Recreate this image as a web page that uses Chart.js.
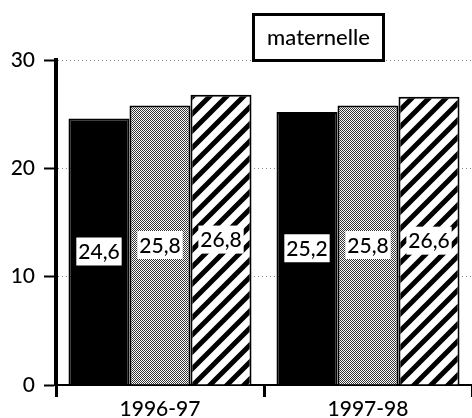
<!DOCTYPE html>
<html>
<head>
<meta charset="utf-8">
<script src="https://cdn.jsdelivr.net/npm/chart.js@4"></script>
<style>
  html, body { margin: 0; padding: 0; background: #fff; }
  #wrap { width: 472px; height: 418px; position: relative; }
</style>
</head>
<body>
<div id="wrap"><canvas id="chart"></canvas></div>
<script>
const years = ['1996-97', '1997-98'];
const serieA = [24.6, 25.2];
const serieB = [25.8, 25.8];
const serieC = [26.8, 26.6];
const yTicks = [0, 10, 20, 30];
const titleText = 'maternelle';

const FONT = 'Lato, "DejaVu Sans", sans-serif';
const WEIGHT = '500';

// fine dither used for the grey bars
function ditherPattern() {
  const c = document.createElement('canvas'); c.width = 2; c.height = 2;
  const g = c.getContext('2d');
  g.fillStyle = '#fff'; g.fillRect(0, 0, 2, 2);
  g.fillStyle = '#333'; g.fillRect(0, 0, 1, 1); g.fillRect(1, 1, 1, 1);
  return g.createPattern(c, 'repeat');
}
// diagonal "/" stripes for the third series
function hatchPattern() {
  const s = 17;
  const c = document.createElement('canvas'); c.width = s; c.height = s;
  const g = c.getContext('2d');
  g.fillStyle = '#fff'; g.fillRect(0, 0, s, s);
  g.strokeStyle = '#000'; g.lineWidth = 5;
  g.beginPath();
  g.moveTo(-4, 4); g.lineTo(4, -4);
  g.moveTo(0, s); g.lineTo(s, 0);
  g.moveTo(s - 4, s + 4); g.lineTo(s + 4, s - 4);
  g.stroke();
  return g.createPattern(c, 'repeat');
}

const fmt = v => String(v).replace('.', ',');

const valueLabels = {
  id: 'valueLabels',
  afterDatasetsDraw(chart) {
    const ctx = chart.ctx;
    ctx.save();
    ctx.font = WEIGHT + ' 21px ' + FONT;
    ctx.textAlign = 'center'; ctx.textBaseline = 'middle';
    chart.data.datasets.forEach((ds, di) => {
      chart.getDatasetMeta(di).data.forEach((bar, i) => {
        const txt = fmt(ds.data[i]);
        const cx = bar.x, cy = (bar.y + bar.base) / 2;
        const w = ctx.measureText(txt).width + 4, h = 28;
        ctx.fillStyle = '#fff';
        ctx.fillRect(cx - w / 2, cy - h / 2, w, h);
        ctx.fillStyle = '#000';
        ctx.fillText(txt, cx, cy + 1);
      });
    });
    ctx.restore();
  }
};

const titleBox = {
  id: 'titleBox',
  afterDraw(chart) {
    const ctx = chart.ctx;
    ctx.save();
    ctx.fillStyle = '#fff';
    ctx.fillRect(252, 13, 133, 49);
    ctx.strokeStyle = '#000'; ctx.lineWidth = 3;
    ctx.strokeRect(253.5, 14.5, 130, 46);
    ctx.fillStyle = '#000';
    ctx.font = WEIGHT + ' 22px ' + FONT;
    ctx.textAlign = 'center'; ctx.textBaseline = 'middle';
    ctx.fillText(titleText, 318.5, 38);
    ctx.restore();
  }
};

const barStyle = { borderColor: '#000', borderWidth: 2, categoryPercentage: 0.88, barPercentage: 1 };

new Chart(document.getElementById('chart'), {
  type: 'bar',
  data: {
    labels: years,
    datasets: [
      { label: 'a', data: serieA, backgroundColor: '#000', ...barStyle },
      { label: 'b', data: serieB, backgroundColor: ditherPattern(), ...barStyle },
      { label: 'c', data: serieC, backgroundColor: hatchPattern(), ...barStyle },
    ]
  },
  options: {
    responsive: true, maintainAspectRatio: false, animation: false,
    layout: { padding: { top: 60, right: 0, left: 0, bottom: 0 } },
    plugins: { legend: { display: false }, tooltip: { enabled: false }, title: { display: false } },
    scales: {
      x: {
        grid: { offset: true, drawOnChartArea: false, drawTicks: true, tickLength: 12, tickColor: '#000', tickWidth: 3 },
        border: { display: true, color: '#000', width: 2 },
        ticks: { color: '#000', font: { family: FONT, size: 21, weight: WEIGHT }, padding: 0 },
        afterFit: s => { s.height = 33; }
      },
      y: {
        min: 0, max: 30,
        afterBuildTicks: s => { s.ticks = yTicks.map(v => ({ value: v })); },
        grid: { color: '#8a8a8a', lineWidth: 1, drawTicks: true, tickLength: 12, tickColor: '#000', tickWidth: 2 },
        border: { display: true, color: '#000', width: 4, dash: [1, 3] },
        ticks: { color: '#000', font: { family: FONT, size: 21, weight: WEIGHT }, padding: 9 },
        afterFit: s => { s.width = 56; }
      }
    }
  },
  plugins: [valueLabels, titleBox]
});
</script>
</body>
</html>
